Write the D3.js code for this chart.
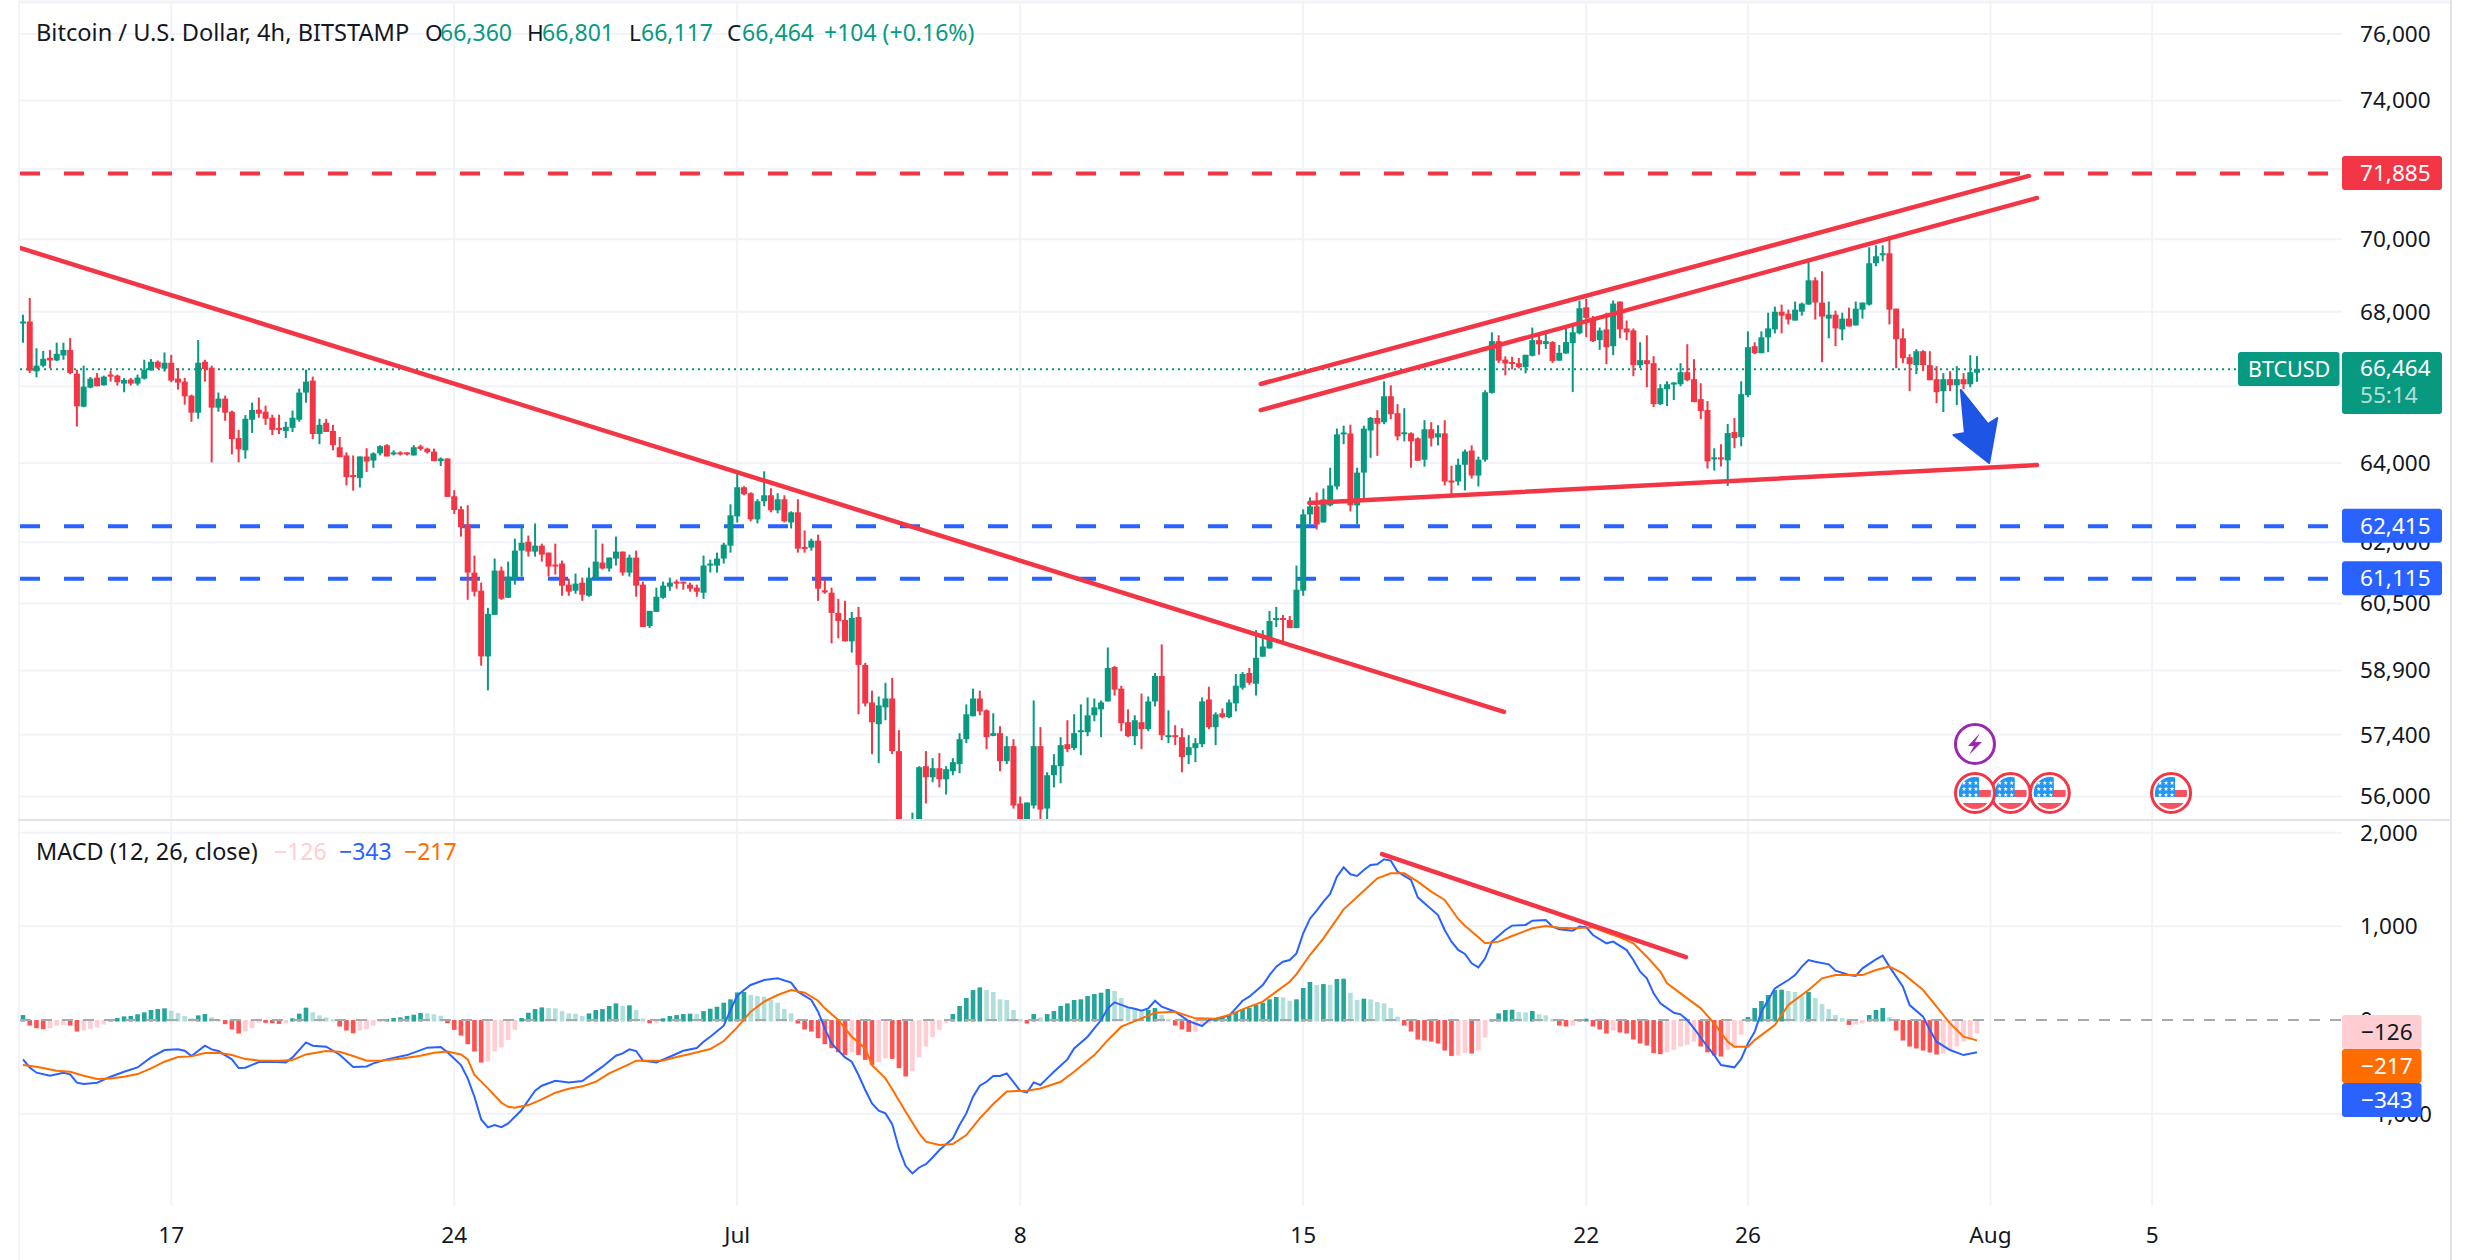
<!DOCTYPE html>
<html><head><meta charset="utf-8">
<script src="https://cdn.jsdelivr.net/npm/d3@7/dist/d3.min.js"></script>
<style>html,body{margin:0;background:#fff}svg{display:block}text{font-family:"Noto Sans",sans-serif;font-size:22.6px}</style>
</head><body><svg id="c" width="2470" height="1260"></svg>
<script>
const opens=[67690,67734,66396,66546,66757,66686,66818,66968,66334,65463,65965,66229,66026,66308,66282,66070,66176,66070,66202,66422,66651,66466,66625,66202,66123,65754,65305,66651,66493,65437,65674,65331,64645,64328,65120,65384,65331,65173,64909,64830,64909,65120,65833,66150,64750,65041,64830,64407,64196,63694,63615,64170,64064,64249,64460,64240,64275,64275,64196,
64430,64371,64295,64050,64118,63156,62827,62447,61254,60811,59231,60225,61303,60639,61107,61795,62016,61771,61918,61746,61451,61476,60959,60811,61008,60688,61107,61500,61353,61599,61771,61254,61623,60959,59958,60298,60639,60910,61033,61033,60959,60885,60762,61443,61426,61599,61918,62649,63384,63232,62573,63029,63181,62801,63080,62497,62751,61886,61869,62042,
60820,60762,60272,60101,59590,60175,59030,58150,57645,58035,58242,57027,54900,54000,54600,56684,56433,56639,56387,56570,56730,57301,57829,58242,57966,57377,57439,56798,57141,55843,54900,55798,57141,55730,56479,56684,57186,57095,57462,57462,57852,57989,58173,58981,58471,57691,57369,57691,57530,58173,58770,57354,57392,57346,56935,57095,57186,58219,57576,57898,57806,58127,58494,58839,58586,59225,59420,60102,60150,60102,59907,60811,62698,62900,62496,62925,63404,64739,64764,62925,63756,64840,65168,
65056,65737,65292,64742,64768,64637,64087,64873,64663,64768,63555,63530,63958,64323,63681,64087,65824,67204,66707,66645,66611,66506,66811,67230,67126,67178,66680,66873,67152,67414,68121,67833,67230,67520,67067,68278,67547,67493,66560,66693,66613,65530,65922,66053,66053,66373,66187,65661,65374,64095,64147,64069,64800,64669,65765,67067,66880,67307,67520,68000,67947,67760,68000,68194,68861,68250,67813,67920,67520,67813,67627,68056,68194,69333,69556,69611,68083,67280,66773,66560,66933,66560,66187,65870,66187,66027,66187,66053,66360];
const highs=[67918,68376,67012,66942,66968,67162,67162,67285,66440,66546,66246,66352,66282,66414,66308,66220,66220,66308,66704,66722,66686,66898,66836,66484,66220,65780,67232,66704,66546,65833,65754,65358,64856,65243,65569,65701,65490,65252,65252,65067,65358,65938,66440,66255,65146,65146,64988,64671,64275,64196,64170,64381,64275,64460,64486,64328,64302,64275,64460,
64472,64396,64371,64143,64118,63308,62903,62928,61672,61008,60395,61599,61402,61525,62092,62405,62168,62472,61968,61746,61968,61550,61107,61230,61131,61377,62320,61968,61623,62143,61771,61697,61795,61033,60322,60885,61033,61131,61082,61033,61008,60959,61672,61574,61746,61992,62953,63738,63409,63257,63080,63789,63358,63232,63181,62776,63080,62295,62092,62194,
61082,60885,60615,60565,60297,60418,59079,58425,58288,58609,58724,57507,55000,55640,56684,57027,56867,56981,56684,56867,57439,58104,58471,58425,57989,57898,57599,57369,57301,56000,55865,58196,57577,56547,56958,57346,57737,57875,58104,58265,58242,58196,59444,59006,58540,57989,57852,58357,58288,58839,59517,57966,57622,57553,57392,57323,58265,58517,57920,58012,58219,58816,58862,58957,59858,59858,60321,60418,60223,60199,61426,62824,63126,63252,63353,63882,64890,64966,64991,63882,64966,65193,65369,
66130,66025,65528,65423,64794,64663,65109,65056,64978,65109,63933,64113,64349,64454,64166,65894,67440,67361,66794,66785,66750,66837,67571,67440,67405,67204,67099,67545,67676,68304,68357,67885,67571,67973,68306,68278,67760,67547,67173,67360,66800,66053,66133,66106,66613,67120,66720,66080,65609,64382,64486,65009,65165,66133,67467,67173,67467,67973,68139,68194,68056,68278,68250,69389,68945,69111,68278,68028,67973,68111,68278,68250,69778,69834,69834,70000,68083,67547,66853,66987,66960,66933,66533,66347,66400,66533,66347,66827,66801];
const lows=[67162,66352,66238,66502,66475,66669,66704,66317,64944,65446,65947,66000,66018,66123,66018,65842,66018,66018,66176,66414,66458,66387,66106,65912,65516,65067,65146,66123,64020,65331,65094,64222,64020,64117,64777,65173,64988,64724,64750,64645,64803,65067,65569,64618,64486,64803,64328,64152,63430,63298,63378,63774,63879,64196,64170,64196,64196,64196,64196,
64320,64244,64050,63924,63139,62708,62143,60590,60672,59013,58431,60225,60590,60639,60959,61156,61648,61648,61525,61156,61205,60688,60688,60738,60565,60664,61082,61328,61279,61426,61180,61156,60664,59934,59910,60298,60615,60811,60861,60836,60787,60664,60615,61254,61254,61476,61746,62497,63181,62523,62472,62903,62751,62725,62497,62346,61746,61746,61795,60565,
60738,59542,59663,59590,59322,57875,58058,56958,56753,57737,56958,54500,53600,53700,54400,55843,56319,56205,56045,56479,56524,57209,57829,57852,57072,57369,56570,56730,55730,54700,54700,55730,55300,55300,56205,56296,57004,57049,56935,57369,57714,57346,58173,58311,57484,57346,57164,57072,57484,58058,57278,57209,57164,56547,56730,56775,57118,57530,57164,57783,57783,57944,58449,58563,58311,59225,59420,59931,59566,59907,59907,60688,62446,62320,62496,62900,63328,64487,62774,62446,63101,64134,64185,
65004,65135,64585,64559,63882,64061,63908,64428,64454,63429,63202,63429,63303,63605,63404,64035,65807,66619,66288,66445,66471,66340,66794,66837,66995,66619,66680,66864,65851,67387,67309,67178,66969,66587,66827,67280,67227,66267,66480,65974,65452,65504,65478,65635,66000,66133,65583,65139,63860,63808,63912,63416,64382,64434,65713,66853,66880,66907,67413,67413,67653,67760,67893,68194,67787,66640,67280,67067,67227,67600,67627,67813,68167,69250,69389,67653,66480,66613,65870,66320,66400,66160,65556,65322,65870,65504,65922,65974,66117];
const closes=[67734,66414,66546,66730,66686,66862,66968,66352,65472,65991,66202,66000,66255,66264,66106,66167,66070,66229,66440,66651,66493,66625,66150,66097,65736,65305,66625,66458,65437,65674,65305,64618,64354,65146,65375,65278,65146,64856,64856,64935,65173,65833,66123,64750,64988,64803,64460,64152,63641,63641,64170,64038,64249,64434,64170,64275,64240,64222,64407,
64363,64278,64050,64118,63139,62810,62379,61254,60787,59231,60249,61303,60615,61156,61795,61992,61771,61918,61697,61402,61402,60934,60787,60984,60713,61131,61525,61353,61623,61771,61254,61623,60934,59934,60322,60664,60934,61008,60984,60992,60861,60787,61426,61476,61599,61943,62675,63384,63206,62573,63029,63181,62801,63080,62523,62751,61845,61845,62042,60861,
60770,60272,60077,59590,60150,59030,58127,57691,58081,58242,57027,54900,54000,54600,56661,56433,56639,56387,56616,56775,57301,57875,58242,57944,57346,57439,56798,57141,55798,54900,55865,57141,55708,56479,56707,57164,57072,57439,57507,57852,58035,58150,58957,58449,57668,57369,57737,57530,58173,58770,57392,57392,57346,56890,57118,57209,58173,57576,57875,57806,58150,58540,58816,58609,59200,59468,60077,60150,60102,59907,60836,62698,62900,62446,63076,63429,64739,64790,62925,63756,64890,65168,65016,
65737,65266,64690,64794,64559,64061,64873,64637,64768,63530,63504,63958,64297,63681,64087,65842,67204,66680,66602,66602,66506,66837,67230,67117,67204,66672,66890,67178,67440,68095,67833,67204,67492,67040,68222,67520,67440,66560,66693,66587,65530,65948,66053,66098,66373,66160,65583,65348,64043,64147,64095,64774,64643,65791,67040,66880,67307,67547,68000,67893,67787,68056,68222,68861,68250,67867,67920,67547,67813,67600,68083,68250,69333,69528,69611,68056,67253,66747,66587,66933,66560,66160,65844,66187,66027,66187,66053,66373,66464];
const hist=[53,-43,-71,-82,-71,-43,-36,-43,-107,-96,-78,-64,-32,11,21,39,43,61,82,107,117,125,100,75,43,18,50,64,28,7,-28,-85,-128,-107,-71,-11,-14,-18,-25,-18,18,68,132,82,50,28,7,-53,-96,-125,-96,-82,-43,-7,11,21,28,43,57,75,71,61,46,-18,-89,-150,-242,-320,-438,-427,-320,-278,-196,-89,21,78,117,135,128,125,96,71,68,43,71,107,117,150,178,153,157,107,18,-18,-14,18,43,53,64,68,64,96,121,142,185,221,295,299,267,256,249,214,185,117,71,-21,-85,-107,-178,
-242,-285,-328,-356,-328,-356,-409,-463,-434,-392,-399,-498,-587,-527,-384,-267,-167,-89,-14,64,150,235,320,349,320,299,221,214,107,11,-21,64,28,64,96,150,178,214,221,256,278,292,331,310,235,142,128,89,107,128,53,11,-43,-85,-110,-107,-25,-21,11,28,53,85,114,128,160,185,221,246,242,206,221,342,406,374,384,377,438,441,292,214,228,221,192,178,128,36,-43,-107,-192,-203,-214,-235,-310,-367,-363,-335,-342,-310,-171,11,71,107,110,85,82,96,61,50,11,-43,-53,-43,11,14,-53,-85,-128,-96,-117,-128,-192,-235,-256,-338,-349,-328,-303,-267,-249,-214,-267,-328,-363,-374,-303,-285,-142,32,128,203,267,320,324,310,299,256,299,235,171,117,53,21,-36,-32,-21,53,107,128,32,-96,-203,-267,-288,-310,-331,-352,-342,-299,-267,-214,-171,-126];
const macdIdx=[0,1,2,4,6,7,8,9,11,13,15,17,19,21,23,24,25,27,28,29,31,32,33,35,37,39,40,42,43,45,47,49,51,52,54,57,60,62,63,65,66,67,68,69,70,71,72,74,76,77,79,81,83,86,88,89,90,91,92,94,96,98,100,101,102,104,105,106,107,108,110,112,114,115,117,118,119,120,122,123,124,125,126,127,128,129,130,131,132,133,134,135,136,138,139,140,141,142,143,144,145,146,148,149,150,151,152,153,155,156,158,160,161,162,164,165,166,167,168,169,171,173,175,176,177,179,180,181,182,184,185,186,187,188,189,190,191,192,193,194,195,196,197,198,199,200,201,202,203,204,206,207,208,210,211,212,213,214,215,216,217,218,220,221,223,224,226,227,228,230,231,232,233,235,236,238,239,240,241,242,243,245,246,247,248,250,251,252,254,255,256,257,258,260,262,263,264,265,266,268,269,271,272,273,275,276,277,279,280,282,283,284,286,288,290];
const macdVal=[-420,-506,-562,-595,-562,-580,-669,-684,-669,-605,-552,-506,-399,-320,-313,-328,-384,-274,-313,-331,-420,-513,-509,-449,-445,-452,-399,-239,-274,-285,-370,-502,-495,-463,-420,-374,-295,-288,-345,-481,-623,-819,-1061,-1146,-1121,-1143,-1104,-961,-755,-701,-648,-666,-651,-498,-381,-356,-313,-331,-434,-452,-392,-328,-299,-231,-178,-61,107,260,320,374,427,445,399,303,214,89,-89,-249,-399,-445,-587,-747,-890,-968,-997,-1111,-1371,-1559,-1638,-1574,-1538,-1467,-1388,-1264,-1121,-997,-819,-701,-659,-598,-598,-570,-755,-773,-666,-694,-623,-552,-420,-303,-178,0,125,189,135,121,100,125,206,142,89,-11,-64,0,11,46,125,206,249,374,480,570,623,641,712,926,1082,1168,1264,1346,1531,1630,1556,1538,1602,1655,1663,1716,1702,1584,1495,1310,1246,1121,961,837,748,705,605,562,659,837,961,1008,1015,1061,1068,997,968,954,997,990,908,819,837,747,641,516,445,285,178,78,61,0,-89,-285,-374,-481,-505,-416,-249,-125,89,338,427,480,570,641,623,595,527,480,470,552,648,687,570,356,160,36,-107,-231,-320,-374,-343];
const signalIdx=[0,2,5,7,9,11,13,15,17,19,21,23,25,27,29,31,33,35,38,40,42,45,47,49,51,53,56,59,61,63,65,66,67,69,71,72,73,75,77,79,81,83,85,87,90,91,95,97,99,102,104,106,108,110,112,114,116,118,119,121,123,125,126,128,129,131,133,134,136,138,140,142,144,146,149,151,154,156,159,161,163,166,168,171,174,177,179,181,184,186,188,189,191,193,196,199,201,203,205,207,209,211,213,214,216,217,219,221,224,226,228,230,233,235,237,239,241,243,244,246,249,251,253,254,256,257,260,262,265,267,269,273,275,277,279,282,284,286,288,290];
const signalVal=[-481,-498,-541,-552,-595,-630,-623,-605,-577,-516,-445,-395,-388,-352,-349,-374,-417,-431,-434,-427,-367,-331,-338,-384,-434,-434,-413,-381,-349,-335,-367,-420,-587,-730,-883,-926,-936,-908,-847,-776,-733,-708,-659,-570,-470,-434,-431,-395,-363,-310,-224,-78,89,196,267,320,292,206,125,0,-178,-303,-481,-623,-740,-979,-1210,-1299,-1335,-1324,-1228,-1050,-897,-762,-755,-730,-659,-552,-374,-214,-71,18,78,89,18,14,53,114,196,303,409,491,694,872,1182,1381,1513,1566,1566,1477,1371,1282,1079,1007,883,819,837,897,979,1004,986,979,990,933,883,819,676,516,392,285,125,-36,-231,-285,-285,-214,-53,160,320,445,480,480,534,570,498,320,142,-36,-178,-217];
const priceTicks=[76000,74000,72000,70000,68000,66000,64000,62000,60500,58900,57400,56000];
const macdTicks=[2000,1000,0,-1000];
const dayIdx=[22,64,106,148,190,232,256,292,316];
const dayLabels=["17","24","Jul","8","15","22","26","Aug","5"];
const levelRed=[71885];
const levelBlue=[62415,61115];
const trendA=[[-0.45,69760],[219.8,57930]];
const trendB=[[183.7,66060],[297.7,71800]];
const trendC=[[183.7,65370],[298.9,71170]];
const trendD=[[190.9,62985],[298.9,63950]];
const trendMacd=[[201.7,1772],[246.8,672]];
const arrowPts=[[287.6,65902],[291.6,65010],[293.0,65167],[291.8,64003],[286.5,64725],[288.2,64776]];
const flagIdx=[295,289.7,300.8,318.8];
const lightningIdx=[289.7];
const lastPrice=66464;

const GREEN="#089981",RED="#f23645",BLUE="#2962ff",ORANGE="#ff6d00",INK="#131722",GRID="#f1f3f8";
const L=20,R=2342,PB=819,MB=1206;
const x=d3.scaleLinear().domain([0,316]).range([23,2152.2]);
const yP=d3.scaleLog().domain([76000,56000]).range([34,796.5]);
const yM=d3.scaleLinear().domain([2000,-1000]).range([832.7,1113.7]);
const svg=d3.select("#c");
const defs=svg.append("defs");
defs.append("clipPath").attr("id","pm").append("rect").attr("x",L).attr("y",3).attr("width",R-L).attr("height",PB-3);
defs.append("clipPath").attr("id","pb").append("rect").attr("x",L).attr("y",PB+2).attr("width",R-L).attr("height",MB-PB-2);

// grid
const g=svg.append("g");
g.selectAll(".v").data(dayIdx).join("line").attr("x1",d=>x(d)).attr("x2",d=>x(d)).attr("y1",3).attr("y2",MB).attr("stroke",GRID).attr("stroke-width",2);
g.selectAll(".h").data(priceTicks).join("line").attr("x1",L).attr("x2",R).attr("y1",d=>yP(d)).attr("y2",d=>yP(d)).attr("stroke",GRID).attr("stroke-width",2);
g.selectAll(".m").data(macdTicks.filter(d=>d!==0)).join("line").attr("x1",L).attr("x2",R).attr("y1",d=>yM(d)).attr("y2",d=>yM(d)).attr("stroke",GRID).attr("stroke-width",2);
g.append("line").attr("x1",L-1).attr("x2",L-1).attr("y1",2).attr("y2",1260).attr("stroke",GRID).attr("stroke-width",2);
g.append("line").attr("x1",L-2).attr("x2",2451).attr("y1",2).attr("y2",2).attr("stroke",GRID).attr("stroke-width",3);
g.append("line").attr("x1",L-2).attr("x2",2451).attr("y1",820).attr("y2",820).attr("stroke","#e0e3eb").attr("stroke-width",2);
g.append("line").attr("x1",2451).attr("x2",2451).attr("y1",0).attr("y2",1260).attr("stroke","#e0e3eb").attr("stroke-width",2);

// tick labels
const tl=svg.append("g").attr("fill",INK);
tl.selectAll("text.p").data(priceTicks).join("text").attr("x",2360).attr("y",d=>yP(d)).attr("dy","0.35em").text(d=>d3.format(",")(d));
tl.selectAll("text.m").data(macdTicks).join("text").attr("x",d=>d<0?2432:2360).attr("text-anchor",d=>d<0?"end":"start").attr("y",d=>yM(d)).attr("dy","0.35em").text(d=>d3.format(",")(d).replace("-","\u2212"));
tl.selectAll("text.d").data(dayIdx).join("text").attr("x",d=>x(d)).attr("y",1235).attr("dy","0.35em").attr("text-anchor","middle").text((d,i)=>dayLabels[i]);

const pane=svg.append("g").attr("clip-path","url(#pm)");
const dash=(sel,list,color)=>sel.selectAll(null).data(list).join("line").attr("x1",L).attr("x2",2330).attr("y1",d=>yP(d)+.5).attr("y2",d=>yP(d)+.5).attr("stroke",color).attr("stroke-width",4).attr("stroke-dasharray","20,24");
dash(pane,levelRed,RED);dash(pane,levelBlue,BLUE);
pane.append("line").attr("x1",L).attr("x2",2238).attr("y1",yP(lastPrice)+.5).attr("y2",yP(lastPrice)+.5).attr("stroke",GREEN).attr("stroke-width",2).attr("stroke-dasharray","2,4");

// candles
const idx=d3.range(opens.length);
const col=i=>closes[i]>=opens[i]?GREEN:RED;
pane.selectAll("line.w").data(idx).join("line").attr("x1",i=>x(i)).attr("x2",i=>x(i)).attr("y1",i=>yP(highs[i])).attr("y2",i=>yP(lows[i])).attr("stroke",col).attr("stroke-width",2);
pane.selectAll("rect.b").data(idx).join("rect").attr("x",i=>x(i)-3).attr("width",6)
 .attr("y",i=>yP(Math.max(opens[i],closes[i]))).attr("height",i=>Math.max(2,Math.abs(yP(opens[i])-yP(closes[i])))).attr("fill",col);

// trend lines
const pLine=d3.line().x(d=>x(d[0])).y(d=>yP(d[1]));
[trendA,trendB,trendC,trendD].forEach(t=>pane.append("path").attr("d",pLine(t)).attr("fill","none").attr("stroke",RED).attr("stroke-width",4.5).attr("stroke-linecap","round"));
pane.append("path").attr("d",pLine(arrowPts)+"Z").attr("fill","#1f55e4").attr("stroke","#1f55e4").attr("stroke-width",2).attr("stroke-linejoin","round");

// event markers
const fy=793,ly=744;
function flag(cx){
 const f=svg.append("g").attr("transform",`translate(${cx},${fy})`);
 f.append("circle").attr("r",19.5).attr("fill","#fff").attr("stroke",RED).attr("stroke-width",3);
 const id="f"+Math.round(cx);
 defs.append("clipPath").attr("id",id).append("circle").attr("r",16);
 const c=f.append("g").attr("clip-path",`url(#${id})`);
 c.append("rect").attr("x",-17).attr("y",-3).attr("width",34).attr("height",7).attr("fill","#f7525f");
 c.append("rect").attr("x",-17).attr("y",10).attr("width",34).attr("height",8).attr("fill","#f7525f");
 c.append("rect").attr("x",-17).attr("y",-17).attr("width",21).attr("height",21).attr("fill","#2196f3");
 d3.range(3).forEach(r=>d3.range(3).forEach(q=>c.append("path").attr("d",d3.symbol(d3.symbolStar,7)()).attr("fill","#fff").attr("transform",`translate(${-11+q*6},${-10+r*6})`)));
}
flagIdx.forEach(i=>flag(x(i)));
lightningIdx.forEach(i=>{
 const b=svg.append("g").attr("transform",`translate(${x(i)},${ly})`);
 b.append("circle").attr("r",19.5).attr("fill","#fff").attr("stroke","#9c27b0").attr("stroke-width",3);
 b.append("path").attr("d","M5,-11 L-7,2 L-1,2 L-6,11 L7,-2 L0,-2 Z").attr("fill","#9c27b0");
});

// MACD pane
const pb=svg.append("g").attr("clip-path","url(#pb)");
const histColor=i=>{const v=hist[i],p=i?hist[i-1]:0;return v>=0?(v>=p?"#26a69a":"#b2dfdb"):(v<p?"#ff5252":"#ffcdd2");};
pb.selectAll("rect.h").data(d3.range(hist.length)).join("rect").attr("x",i=>x(i)-2.3).attr("width",4.6)
 .attr("y",i=>Math.min(yM(hist[i]),yM(0))).attr("height",i=>Math.abs(yM(hist[i])-yM(0))+1.5).attr("fill",histColor);
pb.append("line").attr("x1",L).attr("x2",R).attr("y1",yM(0)).attr("y2",yM(0)).attr("stroke","#a7a9ad").attr("stroke-width",2).attr("stroke-dasharray","11,10");
const mLine=d3.line().x(d=>x(d[0])).y(d=>yM(d[1]));
pb.append("path").attr("d",mLine(macdIdx.map((k,i)=>[k,macdVal[i]]))).attr("fill","none").attr("stroke",BLUE).attr("stroke-width",2);
pb.append("path").attr("d",mLine(signalIdx.map((k,i)=>[k,signalVal[i]]))).attr("fill","none").attr("stroke",ORANGE).attr("stroke-width",2);
pb.append("path").attr("d",mLine(trendMacd)).attr("fill","none").attr("stroke",RED).attr("stroke-width",4.5).attr("stroke-linecap","round");

// legends
const leg=svg.append("text").attr("y",33).attr("dy","0.35em").attr("fill",INK);
function run(t,items){items.forEach(([xp,s,c,fs])=>{const ts=t.append("tspan").attr("x",xp).attr("fill",c).text(s);if(fs)ts.style("font-size",fs+"px");});}
run(leg,[[36,"Bitcoin / U.S. Dollar, 4h, BITSTAMP",INK,23.6],[425,"O",INK],[440,"66,360",GREEN,23],[527,"H",INK],[542,"66,801",GREEN,23],[629,"L",INK],[641,"66,117",GREEN,23],[727,"C",INK],[742,"66,464",GREEN,23],[824,"+104 (+0.16%)",GREEN,23]]);
const leg2=svg.append("text").attr("y",852).attr("dy","0.35em");
run(leg2,[[36,"MACD (12, 26, close)",INK,23.4],[274,"\u2212126","#ffcdd2",23],[339,"\u2212343",BLUE,23],[404,"\u2212217",ORANGE,23]]);

// right-hand badges
function badge(xp,yT,w,h,fill,text,tx,color,r){
 svg.append("rect").attr("x",xp).attr("y",yT).attr("width",w).attr("height",h).attr("rx",r).attr("fill",fill);
 if(text) return svg.append("text").attr("x",tx).attr("y",yT+h/2).attr("dy","0.35em").attr("fill",color).text(text);
}
levelRed.forEach(v=>badge(R,yP(v)-17,100,34,RED,d3.format(",")(v),2360,"#fff",3));
levelBlue.forEach(v=>badge(R,yP(v)-17,100,34,BLUE,d3.format(",")(v),2360,"#fff",3));
badge(2238,352,101.5,34,GREEN,"BTCUSD",2248,"#fff",3).style("font-size","21.5px");
badge(R,352,100,62,GREEN,null,0,"",3);
svg.append("text").attr("x",2360).attr("y",368).attr("dy","0.35em").attr("fill","#fff").text(d3.format(",")(lastPrice));
svg.append("text").attr("x",2360).attr("y",395).attr("dy","0.35em").attr("fill","#fff").attr("fill-opacity",.7).text("55:14");
badge(R,1015,79.5,34,"#ffcdd2","\u2212126",2361,INK,3);
badge(R,1049,79.5,34,ORANGE,"\u2212217",2361,"#fff",3);
badge(R,1083,79.5,34,BLUE,"\u2212343",2361,"#fff",3);
</script></body></html>
